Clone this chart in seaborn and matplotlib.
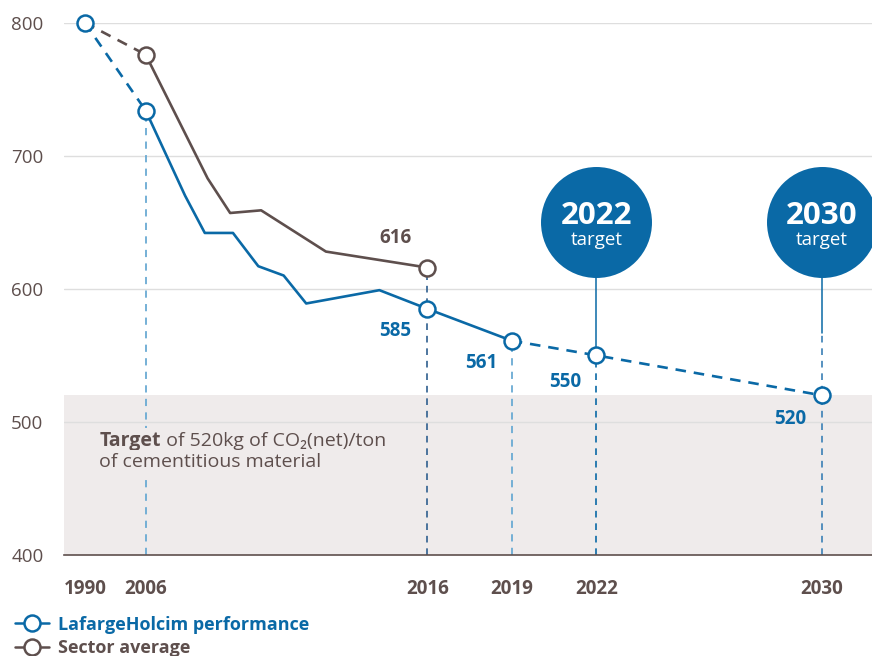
import numpy as np
import pandas as pd
import matplotlib.pyplot as plt
import seaborn as sns
from matplotlib.lines import Line2D

# data
lh_years = [1990, 2006, 2007.4, 2008.1, 2009.1, 2010, 2010.9, 2011.7, 2014.3, 2016, 2019]
lh_vals = [800, 734, 670, 642, 642, 617, 610, 589, 599, 585, 561]
target_years = [2019, 2022, 2030]
target_vals = [561, 550, 520]
sector_years = [1990, 2006, 2008.2, 2009, 2010.1, 2012.4, 2016]
sector_vals = [800, 776, 683, 657, 659, 628, 616]

marker_years_lh = [1990, 2006, 2016, 2019, 2022, 2030]
marker_vals_lh = [800, 734, 585, 561, 550, 520]
marker_years_sec = [2006, 2016]
marker_vals_sec = [776, 616]

tick_years = [1990, 2006, 2016, 2019, 2022, 2030]
target_band = 520
bubble_years = [2022, 2030]

BLUE = "#0a69a6"
LBLUE = "#6aaad3"
BROWN = "#5e4f4d"
BAND = "#efebeb"

sns.set_theme(style="white")
plt.rcParams['font.family'] = ['Open Sans', 'DejaVu Sans']


def xpos(y):
    # 1990-2006 gap is squeezed on the original axis
    y = np.asarray(y, dtype=float)
    return np.where(y < 2006, 2006 - (2006 - y) * 0.135, y)


fig = plt.figure(figsize=(8.72, 6.56), dpi=100)
ax = fig.add_axes([0.0737, 0.154, 0.9263, 0.8114])
ax.set_xlim(2003.11, 2031.79)
ax.set_ylim(400, 800)

# grey target band
ax.axhspan(400, target_band, color=BAND, zorder=0, lw=0)
for g in [500, 600, 700, 800]:
    ax.axhline(g, color="#dedede", lw=1, zorder=0.5)

# vertical dashed guides
dash = (0, (4, 3.5))
ax.plot(xpos([2006, 2006]), [400, 734], color=LBLUE, lw=1.3, ls=dash, zorder=1)
ax.plot(xpos([2016, 2016]), [400, 616], color="#2f5f8f", lw=1.2, ls=dash, zorder=1)
ax.plot(xpos([2019, 2019]), [400, 561], color=LBLUE, lw=1.3, ls=dash, zorder=1)
ax.plot(xpos([2022, 2022]), [400, 550], color=BLUE, lw=1.2, ls=dash, zorder=1)
ax.plot(xpos([2030, 2030]), [400, 567], color="#3a7fb5", lw=1.2, ls=dash, zorder=1)

# solid series with seaborn
solid = pd.concat([
    pd.DataFrame({"x": xpos(lh_years[1:]), "y": lh_vals[1:], "s": "lh"}),
    pd.DataFrame({"x": xpos(sector_years[1:]), "y": sector_vals[1:], "s": "sec"}),
])
sns.lineplot(data=solid, x="x", y="y", hue="s", palette={"lh": BLUE, "sec": BROWN},
             sort=False, lw=1.9, legend=False, ax=ax, zorder=3)

# dashed segments
ax.plot(xpos(lh_years[:2]), lh_vals[:2], color=BLUE, lw=1.9, ls=(0, (4, 3)), zorder=3, clip_on=False)
ax.plot(xpos(sector_years[:2]), sector_vals[:2], color=BROWN, lw=1.9, ls=(0, (4, 3)), zorder=3, clip_on=False)
ax.plot(xpos(target_years), target_vals, color=BLUE, lw=1.9, ls=(0, (4, 3)), zorder=3)

# markers
ax.plot(xpos(marker_years_lh), marker_vals_lh, ls="none", marker="o", ms=11.5, mfc="white",
        mec=BLUE, mew=1.8, zorder=5, clip_on=False)
ax.plot(xpos(marker_years_sec), marker_vals_sec, ls="none", marker="o", ms=11.5, mfc="white",
        mec=BROWN, mew=1.8, zorder=5, clip_on=False)

# target bubbles
for by, pv in zip(bubble_years, [550, 567]):
    ax.plot(xpos([by, by]), [pv, 630], color=BLUE, lw=1.1, zorder=2)
    ax.scatter(xpos([by]), [650], s=6385, color=BLUE, zorder=6, clip_on=False, lw=0)
    ax.text(xpos(by), 655, str(by), color="white", fontsize=22.5, fontweight="bold",
            ha="center", va="center", zorder=7)
    ax.text(xpos(by), 637, "target", color="white", fontsize=13.5,
            ha="center", va="center", zorder=7)

# value labels
lab_kw = dict(fontsize=13.5, fontweight="bold", ha="center", va="center")
ax.text(xpos(2016) - 1.13, 638, "616", color=BROWN, **lab_kw)
ax.text(xpos(2016) - 1.13, 568, "585", color=BLUE, **lab_kw)
ax.text(xpos(2019) - 1.1, 544, "561", color=BLUE, **lab_kw)
ax.text(xpos(2022) - 1.1, 530, "550", color=BLUE, **lab_kw)
ax.text(xpos(2030) - 1.1, 502, "520", color=BLUE, **lab_kw)

# band annotation ("Target" in bold, rest regular on the same baseline)
box = dict(facecolor=BAND, edgecolor="none", pad=2)
t = ax.text(2004.35, 482, "Target", color=BROWN, fontsize=14, fontweight="bold",
            ha="left", va="baseline", bbox=box, zorder=4)
fig.canvas.draw()
bb = t.get_window_extent()
x_end = ax.transData.inverted().transform((bb.x1, bb.y0))[0]
ax.text(x_end, 482, " of 520kg of CO\u2082(net)/ton", color=BROWN, fontsize=14,
        ha="left", va="baseline", zorder=4)
ax.text(2004.35, 466, "of cementitious material", color=BROWN, fontsize=14,
        ha="left", va="baseline", bbox=box, zorder=4)

# axes styling
for s in ["top", "right", "left"]:
    ax.spines[s].set_visible(False)
ax.spines["bottom"].set_color(BROWN)
ax.spines["bottom"].set_linewidth(1.2)
ax.set_xticks(xpos(tick_years))
ax.set_xticklabels([str(y) for y in tick_years], fontweight="bold")
ax.set_yticks([400, 500, 600, 700, 800])
ax.tick_params(axis="x", length=0, pad=17, labelsize=13.5, labelcolor=BROWN)
ax.tick_params(axis="y", length=0, pad=15, labelsize=13.5, labelcolor=BROWN)
ax.set_xlabel("")
ax.set_ylabel("")

handles = [
    Line2D([], [], color=BLUE, lw=1.8, marker="o", ms=11.5, mfc="white", mew=1.8),
    Line2D([], [], color=BROWN, lw=1.8, marker="o", ms=11.5, mfc="white", mew=1.8),
]
fig.legend(handles, ["LafargeHolcim performance", "Sector average"], loc="upper left",
           bbox_to_anchor=(0.005, 0.078), frameon=False, labelcolor=[BLUE, BROWN],
           prop={"weight": "bold", "size": 13}, handlelength=1.9, handletextpad=0.45,
           labelspacing=0.3, borderaxespad=0.2)

fig.savefig("out.png", dpi=100)
